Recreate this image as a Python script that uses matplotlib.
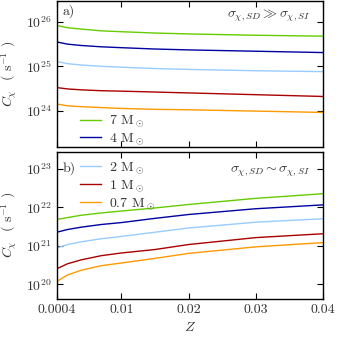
import matplotlib
matplotlib.use("Agg")
import matplotlib.pyplot as plt
from matplotlib.ticker import LogLocator, NullLocator
import numpy as np

plt.rcParams['font.family'] = 'serif'
plt.rcParams['font.serif'] = ['cmr10', 'DejaVu Serif']
plt.rcParams['mathtext.fontset'] = 'cm'
plt.rcParams['axes.formatter.use_mathtext'] = True
plt.rcParams['font.size'] = 10
plt.rcParams['text.color'] = '#333333'
plt.rcParams['axes.labelcolor'] = '#333333'
plt.rcParams['xtick.labelcolor'] = '#333333'
plt.rcParams['ytick.labelcolor'] = '#333333'

# metallicity grid
Z = [0.0004, 0.002, 0.004, 0.007, 0.01, 0.015, 0.02, 0.03, 0.04]

labels = ["7 M$_\\odot$", "4 M$_\\odot$", "2 M$_\\odot$", "1 M$_\\odot$", "0.7 M$_\\odot$"]
colors = ["#66cc00", "#0000a0", "#99ccff", "#aa0000", "#ff9900"]

# log10 capture rate, sigma_SD >> sigma_SI
top_7 = [25.92, 25.87, 25.84, 25.80, 25.78, 25.75, 25.73, 25.70, 25.68]
top_4 = [25.55, 25.50, 25.47, 25.44, 25.42, 25.39, 25.37, 25.34, 25.31]
top_2 = [25.11, 25.06, 25.03, 25.00, 24.98, 24.95, 24.93, 24.90, 24.88]
top_1 = [24.52, 24.49, 24.47, 24.45, 24.44, 24.42, 24.40, 24.36, 24.32]
top_07 = [24.15, 24.11, 24.09, 24.07, 24.05, 24.03, 24.02, 23.99, 23.96]

# log10 capture rate, sigma_SD ~ sigma_SI
bot_7 = [21.68, 21.73, 21.79, 21.85, 21.90, 21.98, 22.07, 22.23, 22.35]
bot_4 = [21.35, 21.42, 21.48, 21.55, 21.60, 21.71, 21.81, 21.96, 22.06]
bot_2 = [20.94, 21.03, 21.10, 21.18, 21.24, 21.35, 21.46, 21.61, 21.70]
bot_1 = [20.40, 20.53, 20.63, 20.74, 20.81, 20.90, 21.03, 21.21, 21.31]
bot_07 = [20.07, 20.24, 20.36, 20.48, 20.55, 20.67, 20.80, 20.97, 21.08]

top_series = [top_7, top_4, top_2, top_1, top_07]
bot_series = [bot_7, bot_4, bot_2, bot_1, bot_07]

fig = plt.figure(figsize=(3.38, 3.38), dpi=100)
ax1 = fig.add_axes([0.168, 0.565, 0.788, 0.433])
ax2 = fig.add_axes([0.168, 0.116, 0.788, 0.435])

lines = []
for ys, c, lab in zip(top_series, colors, labels):
    l, = ax1.plot(Z, 10 ** np.array(ys), color=c, lw=1.0, label=lab)
    lines.append(l)
for ys, c, lab in zip(bot_series, colors, labels):
    ax2.plot(Z, 10 ** np.array(ys), color=c, lw=1.0, label=lab)

for ax in (ax1, ax2):
    ax.set_yscale('log')
    ax.set_xlim(0.0004, 0.04)
    ax.set_xticks([0.0004, 0.01, 0.02, 0.03, 0.04])
    ax.yaxis.set_major_locator(LogLocator(base=10, numticks=10))
    ax.yaxis.set_minor_locator(NullLocator())
    ax.tick_params(direction='in', top=True, right=True, length=4, width=0.8)
    for s in ax.spines.values():
        s.set_linewidth(1.0)
    ax.set_ylabel("$C_\\chi$  ( s$^{-1}$ )")
    ax.yaxis.set_label_coords(-0.142, 0.5)

ax1.set_ylim(10 ** 23.18, 10 ** 26.48)
ax2.set_ylim(10 ** 19.62, 10 ** 23.44)
ax1.tick_params(labelbottom=False)
ax2.set_xticklabels(["0.0004", "0.01", "0.02", "0.03", "0.04"])
ax2.set_xlabel("$Z$")

ax1.text(0.02, 0.97, "a)", transform=ax1.transAxes, ha='left', va='top')
ax2.text(0.02, 0.935, "b)", transform=ax2.transAxes, ha='left', va='top')
ax1.text(0.95, 0.955, "$\\sigma_{\\chi,SD} \\gg \\sigma_{\\chi,SI}$", transform=ax1.transAxes,
         ha='right', va='top')
ax2.text(0.95, 0.915, "$\\sigma_{\\chi,SD} \\sim \\sigma_{\\chi,SI}$", transform=ax2.transAxes,
         ha='right', va='top')

ax1.legend(handles=lines[:2], loc='lower left', bbox_to_anchor=(0.05, -0.065), frameon=False,
           handlelength=1.5, handletextpad=0.6, labelspacing=0.1, borderpad=0.2)
ax2.legend(handles=lines[2:], loc='upper left', bbox_to_anchor=(0.05, 1.01), frameon=False,
           handlelength=1.5, handletextpad=0.6, labelspacing=0.15, borderpad=0.2)

fig.savefig("out.png", dpi=100)
